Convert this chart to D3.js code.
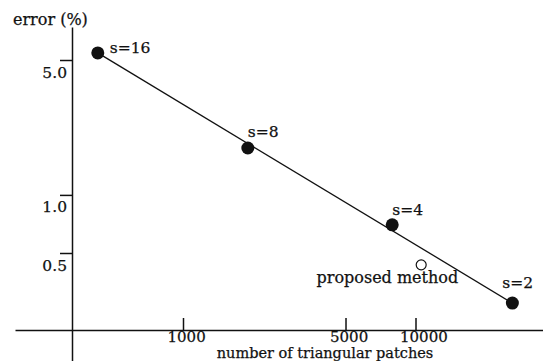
<!DOCTYPE html>
<html>
<head>
<meta charset="utf-8">
<script src="https://cdn.jsdelivr.net/npm/d3@7"></script>
<style>
	body { margin: 0; background: #fff; }
	text { font-family: "DejaVu Serif", serif; fill: #111; stroke: #111; stroke-width: 0.25px; }
</style>
</head>
<body>
<div id="chart"></div>
<script>

// values (log-log plot)
var sizeLabels = ["s=16", "s=8", "s=4", "s=2"];
var patches = [430, 1900, 7940, 26100];          // number of triangular patches
var errors = [5.44, 1.75, 0.70, 0.275];           // error (%)

var proposedLabel = "proposed method";
var proposedPatches = 10580;
var proposedError = 0.434;

var xTicks = [1000, 5000, 10000];
var yTicks = [0.5, 1.0, 5.0];

var width = 543;
var height = 361;

// label placement next to each point (dx, dy)
var labelOffset = [[12, 0], [0, -11], [0, -10], [-10, -15]];

var svg = d3.select("#chart").append("svg")
	.attr("width", width)
	.attr("height", height);

// x scale: 1000 -> 5000 -> 10000 ticks, then stretched over the full axis line
var xScale = d3.scaleLog().domain([1000, 10000]).range([183, 415.5]);
xScale.domain([xScale.invert(15), xScale.invert(543)]).range([15, 543]);

// y scale
var yScale = d3.scaleLog().domain([0.5, 5]).range([253, 60]);
yScale.domain([yScale.invert(361), yScale.invert(27)]).range([361, 27]);

var xAxisY = 330;
var yAxisX = 72;

// x axis, ticks pointing up
var xAxis = svg.append("g")
	.attr("transform", "translate(0," + xAxisY + ")")
	.call(d3.axisBottom(xScale)
		.tickValues(xTicks)
		.tickSizeInner(-12)
		.tickSizeOuter(0)
		.tickFormat(d3.format("d")));

xAxis.selectAll("text")
	.attr("text-anchor", "start")
	.attr("x", -16)
	.attr("y", 12)
	.attr("dy", 0)
	.style("font-size", "15px");

// y axis, ticks pointing left, labels hanging under the tick
var yAxis = svg.append("g")
	.attr("transform", "translate(" + yAxisX + ",0)")
	.call(d3.axisLeft(yScale)
		.tickValues(yTicks)
		.tickSizeInner(12)
		.tickSizeOuter(0)
		.tickFormat(d3.format(".1f")));

yAxis.selectAll("text")
	.attr("text-anchor", "end")
	.attr("x", -5)
	.attr("y", 17)
	.attr("dy", 0)
	.style("font-size", "15.5px");

svg.selectAll(".domain, .tick line")
	.attr("stroke", "#111")
	.attr("stroke-width", 1.5);

// axis titles
svg.append("text")
	.attr("x", 13)
	.attr("y", 25)
	.style("font-size", "16px")
	.text("error (%)");

svg.append("text")
	.attr("x", 325)
	.attr("y", 358)
	.attr("text-anchor", "middle")
	.style("font-size", "14.5px")
	.text("number of triangular patches");

// straight line from the s=16 point to the s=2 point
var last = patches.length - 1;
svg.append("path")
	.datum([0, last])
	.attr("fill", "none")
	.attr("stroke", "#111")
	.attr("stroke-width", 1.3)
	.attr("d", d3.line()
		.x(function(i) { return xScale(patches[i]); })
		.y(function(i) { return yScale(errors[i]); }));

// measured points
svg.selectAll("circle.pt")
	.data(patches)
	.enter().append("circle")
	.attr("class", "pt")
	.attr("r", 6.5)
	.attr("cx", function(d) { return xScale(d); })
	.attr("cy", function(d, i) { return yScale(errors[i]); })
	.attr("fill", "#111");

svg.selectAll("text.slabel")
	.data(sizeLabels)
	.enter().append("text")
	.attr("class", "slabel")
	.attr("x", function(d, i) { return xScale(patches[i]) + labelOffset[i][0]; })
	.attr("y", function(d, i) { return yScale(errors[i]) + labelOffset[i][1]; })
	.style("font-size", "15.5px")
	.text(function(d) { return d; });

// proposed method (open circle)
svg.append("circle")
	.attr("cx", xScale(proposedPatches))
	.attr("cy", yScale(proposedError))
	.attr("r", 5)
	.attr("fill", "#fff")
	.attr("stroke", "#111")
	.attr("stroke-width", 1.2);

svg.append("text")
	.attr("x", xScale(proposedPatches) + 37)
	.attr("y", yScale(proposedError) + 18)
	.attr("text-anchor", "end")
	.style("font-size", "16px")
	.text(proposedLabel);

</script>
</body>
</html>
